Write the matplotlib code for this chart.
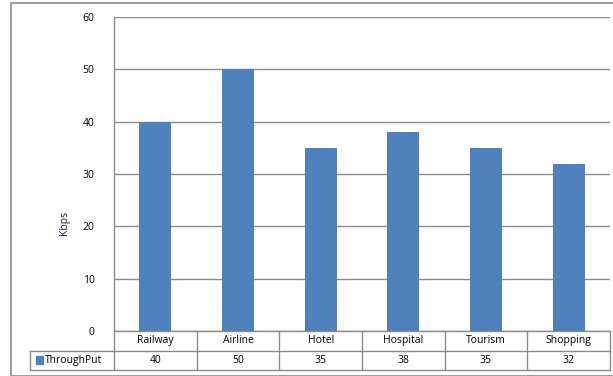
import matplotlib
matplotlib.use("Agg")
import matplotlib.pyplot as plt
from matplotlib.patches import Rectangle

categories = ["Railway", "Airline", "Hotel", "Hospital", "Tourism", "Shopping"]
throughput = [40, 50, 35, 38, 35, 32]
series_name = "ThroughPut"
yticks = [0, 10, 20, 30, 40, 50, 60]

W, H = 613, 376
fig = plt.figure(figsize=(W / 100, H / 100), dpi=100)
plt.rcParams['font.family'] = ['Open Sans', 'DejaVu Sans']

x0, x1 = 114, 610
ytop, ybot = 17, 331
ax = fig.add_axes([x0 / W, 1 - ybot / H, (x1 - x0) / W, (ybot - ytop) / H])

bar_color = "#4F81BD"
grid_color = "#8C8C8C"
xs = list(range(len(categories)))
ax.bar(xs, throughput, width=0.39, color=bar_color, zorder=3)
ax.set_xlim(-0.5, len(categories) - 0.5)
ax.set_ylim(0, 60)
ax.set_yticks(yticks)
ax.set_yticklabels([str(v) for v in yticks], fontsize=7.5)
ax.tick_params(axis='y', length=0, pad=14)
ax.set_xticks([])
for s in ["top", "right", "bottom"]:
    ax.spines[s].set_visible(False)
ax.spines["left"].set_color(grid_color)
ax.spines["left"].set_linewidth(1.0)
ax.yaxis.grid(True, color=grid_color, linewidth=1.0, zorder=0)
ax.set_axisbelow(True)
ax.set_ylabel("Kbps", fontsize=7.5, color="#1F1F3F")
ax.yaxis.set_label_coords((70 - x0) / (x1 - x0), (ybot - 223) / (ybot - ytop))

# table below the plot
ah = ybot - ytop
row = 19.5 / ah
tr = ax.get_xaxis_transform()
lc = grid_color
lw = 1.0
ax.plot([-0.5, len(categories) - 0.5], [0, 0], transform=tr, color=lc, lw=lw, clip_on=False)
xl = -0.5 - (x0 - 30) / ((x1 - x0) / len(categories))
ax.plot([xl, len(categories) - 0.5], [-row, -row], transform=tr, color=lc, lw=lw, clip_on=False)
ax.plot([xl, len(categories) - 0.5], [-2 * row, -2 * row], transform=tr, color=lc, lw=lw, clip_on=False)
for i in range(len(categories) + 1):
    ax.plot([i - 0.5, i - 0.5], [0, -2 * row], transform=tr, color=lc, lw=lw, clip_on=False)
ax.plot([xl, xl], [-row, -2 * row], transform=tr, color=lc, lw=lw, clip_on=False)

for i, (c, v) in enumerate(zip(categories, throughput)):
    ax.text(i, -row / 2, c, transform=tr, ha="center", va="center", fontsize=7.5)
    ax.text(i, -1.5 * row, str(v), transform=tr, ha="center", va="center", fontsize=7.5)

ax.add_patch(Rectangle((xl + 0.07, -1.5 * row - 0.012), 0.085, 0.024, transform=tr,
                       color=bar_color, clip_on=False))
ax.text(xl + 0.18, -1.5 * row, series_name, transform=tr, ha="left", va="center", fontsize=7.5)

fig.patches.append(Rectangle((11 / W, 0), (W + 5) / W, (H - 2.5) / H, transform=fig.transFigure,
                             fill=False, edgecolor=grid_color, linewidth=1.2))

fig.savefig("out.png", dpi=100)
